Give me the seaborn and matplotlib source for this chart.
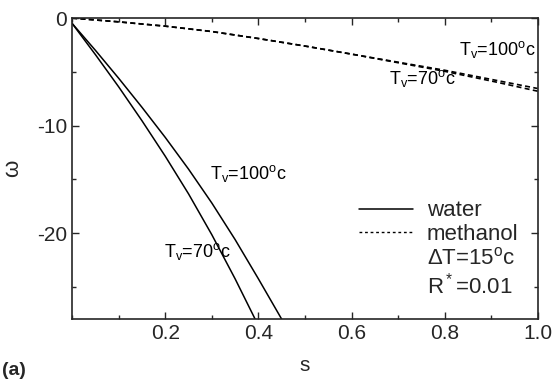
import matplotlib
matplotlib.use("Agg")
import matplotlib.pyplot as plt
from matplotlib.lines import Line2D
from matplotlib.ticker import MultipleLocator
import seaborn as sns

# water curves
water_s_70 = [0.0, 0.05, 0.10, 0.15, 0.20, 0.25, 0.30, 0.35, 0.393]
water_w_70 = [-0.5, -3.4, -6.4, -9.55, -12.85, -16.35, -20.15, -24.25, -28.0]
water_s_100 = [0.0, 0.05, 0.10, 0.15, 0.20, 0.25, 0.30, 0.35, 0.40, 0.45]
water_w_100 = [-0.5, -3.0, -5.6, -8.3, -11.1, -14.05, -17.2, -20.6, -24.25, -28.0]

# methanol curves
meth_s = [0.0, 0.1, 0.2, 0.3, 0.4, 0.5, 0.6, 0.7, 0.8, 0.9, 1.0]
meth_w_100 = [0.0, -0.35, -0.75, -1.25, -1.9, -2.6, -3.35, -4.1, -4.85, -5.7, -6.55]
meth_w_70 = [0.0, -0.35, -0.75, -1.25, -1.9, -2.6, -3.35, -4.15, -4.95, -5.85, -6.8]

sns.set_style("ticks")
plt.rcParams['font.family'] = ['Liberation Sans', 'DejaVu Sans']
plt.rcParams['mathtext.fontset'] = 'custom'
plt.rcParams['mathtext.rm'] = 'Liberation Sans'
plt.rcParams['mathtext.it'] = 'Liberation Sans:italic'

fig = plt.figure(figsize=(5.55, 3.85), dpi=100)
ax = fig.add_axes([0.13, 0.171, 0.839, 0.782])

dash = (0, (3, 2))
sns.lineplot(x=water_s_70, y=water_w_70, color='black', lw=1.1, ax=ax)
sns.lineplot(x=water_s_100, y=water_w_100, color='black', lw=1.1, ax=ax)
sns.lineplot(x=meth_s, y=meth_w_100, color='black', lw=1.2, ls=dash, ax=ax)
sns.lineplot(x=meth_s, y=meth_w_70, color='black', lw=1.2, ls=dash, ax=ax)

ax.set_xlim(0, 1.0)
ax.set_ylim(-28, 0)
ax.xaxis.set_minor_locator(MultipleLocator(0.1))
ax.yaxis.set_minor_locator(MultipleLocator(5))
ax.set_xticks([0.2, 0.4, 0.6, 0.8, 1.0])
ax.set_xticklabels(['0.2', '0.4', '0.6', '0.8', '1.0'])
ax.set_yticks([-20, -10, 0])
ax.set_yticklabels(['-20', '-10', '0'])
ax.tick_params(which='both', direction='in', top=True, right=True, labelsize=15, width=1)
ax.tick_params(which='major', length=5)
ax.tick_params(which='minor', length=3)
for sp in ax.spines.values():
    sp.set_linewidth(1.2)
    sp.set_visible(True)

ax.set_xlabel('s', fontsize=15, labelpad=9)
ax.set_ylabel('ω', fontsize=16, labelpad=10)

lab = dict(fontsize=13, color='black')
ax.text(0.297, -15.0, r'T$_\mathrm{v}$=100$^\mathrm{o}$c', **lab)
ax.text(0.198, -22.2, r'T$_\mathrm{v}$=70$^\mathrm{o}$c', **lab)
ax.text(0.83, -3.4, r'T$_\mathrm{v}$=100$^\mathrm{o}$c', **lab)
ax.text(0.68, -6.1, r'T$_\mathrm{v}$=70$^\mathrm{o}$c', **lab)

handles = [
    Line2D([], [], color='black', lw=1.1),
    Line2D([], [], color='black', lw=1.0, ls=(0, (2, 2))),
    Line2D([], [], color='none'),
    Line2D([], [], color='none'),
]
labels = ['water', 'methanol', r'$\Delta$T=15$^\mathrm{o}$c', r'R$^*$=0.01']
ax.legend(handles, labels, loc='lower right', frameon=False, fontsize=16,
          handlelength=2.4, handletextpad=0.65, labelspacing=0.12,
          borderaxespad=0.0, bbox_to_anchor=(0.978, 0.04))

fig.text(0.003, 0.025, '(a)', fontsize=14, fontweight='bold')

fig.savefig('out.png', dpi=100)
